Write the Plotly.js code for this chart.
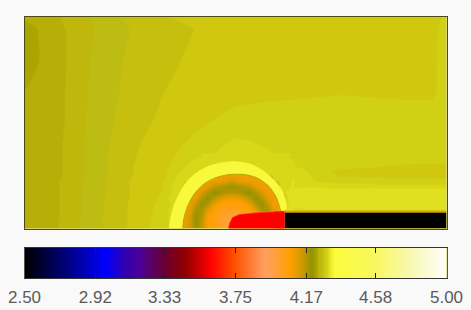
<!DOCTYPE html>
<html><head><meta charset="utf-8">
<script src="https://cdn.plot.ly/plotly-3.0.1.min.js"></script>
<style>html,body{margin:0;padding:0;background:#f9f9f9}#c{width:471px;height:310px}</style>
</head><body><div id="c"></div>
<script>
// Colour map: [value, colour]; repeated values are band edges.
const colourStops = [
 [2.5,'#000000'],[2.71,'#00006a'],[2.98,'#0000ff'],[3.09,'#3000b0'],[3.18,'#4c0098'],[3.33,'#6a0030'],
 [3.45,'#900000'],[3.6,'#ff0000'],[3.74,'#ff5000'],[3.92,'#ffa060'],[3.98,'#ffa040'],[4.07,'#ffa000'],
 [4.13,'#d89a00'],[4.2,'#939300'],[4.23,'#aea500'],[4.23,'#b7ae08'],[4.24,'#b7ae08'],[4.24,'#bfb70b'],
 [4.25,'#bfb70b'],[4.25,'#bcbc12'],[4.26,'#bcbc12'],[4.26,'#c6bf0e'],[4.27,'#c6bf0e'],[4.27,'#cfc80e'],
 [4.28,'#cfc80e'],[4.28,'#d0d014'],[4.29,'#d0d014'],[4.29,'#d8d818'],[4.30,'#d8d818'],[4.30,'#e0e020'],
 [4.31,'#e0e020'],[4.31,'#f0f030'],[4.33,'#f0f030'],[4.33,'#fbfb3c'],[4.58,'#f8f860'],[4.78,'#f8f8b0'],[5,'#ffffff']
];
const tickValues = [2.5,2.92,3.33,3.75,4.17,4.58,5.0];
const tickLabels = ['2.50','2.92','3.33','3.75','4.17','4.58','5.00'];

// Wide field, sampled coarsely
const wideX = [0,35,70,105,140,175,210,245,280,315,360,407,422];
const wideY = [211,198,168,138,108,78,63,56,48,38,23,17,0];
const wideZ = [
 [4.232,4.24,4.2525,4.263,4.27,4.273,4.275,4.276,4.276,4.276,4.276,4.276,4.282],
 [4.225,4.238,4.25,4.26,4.265,4.271,4.275,4.276,4.276,4.276,4.276,4.2765,4.285],
 [4.225,4.237,4.252,4.262,4.2675,4.273,4.275,4.276,4.276,4.276,4.276,4.2775,4.285],
 [4.23,4.238,4.253,4.263,4.27,4.2745,4.276,4.277,4.278,4.279,4.278,4.2775,4.285],
 [4.231,4.238,4.254,4.265,4.2725,4.278,4.283,4.285,4.285,4.285,4.285,4.285,4.285],
 [4.23,4.239,4.255,4.268,4.277,4.285,4.295,4.29,4.285,4.285,4.285,4.285,4.285],
 [4.231,4.239,4.255,4.269,4.278,4.288,4.295,4.295,4.288,4.284,4.28,4.279,4.279],
 [4.231,4.239,4.255,4.269,4.279,4.29,4.295,4.295,4.292,4.276,4.275,4.275,4.276],
 [4.232,4.24,4.2555,4.27,4.28,4.295,4.295,4.295,4.292,4.285,4.283,4.282,4.282],
 [4.232,4.24,4.256,4.27,4.281,4.295,4.295,4.295,4.305,4.305,4.305,4.305,4.305],
 [4.232,4.24,4.2565,4.271,4.284,4.295,4.295,4.295,4.305,4.305,4.305,4.305,4.305],
 [4.232,4.24,4.2565,4.271,4.285,4.295,4.295,4.295,4.295,4.295,4.295,4.295,4.295],
 [4.232,4.2405,4.257,4.2713,4.2875,4.295,4.295,4.295,4.295,4.295,4.295,4.295,4.295]
];

// Inside of the half disc, sampled finely
const ringX = [141,147,153,159,165,171,177,183,189,195,201,207,213,219,225,231,237,243,249,255,261,267];
const ringY = [72,66,60,54,48,42,36,30,24,18,12,6,0];
const ringZ = [
 [4.278,4.279,4.281,4.283,4.285,4.288,4.29,4.295,4.295,4.295,4.295,4.295,4.295,4.295,4.295,4.295,4.295,4.295,4.295,4.295,4.295,4.285],
 [4.278,4.28,4.283,4.285,4.29,4.295,4.295,4.295,4.295,4.295,4.295,4.295,4.295,4.295,4.295,4.295,4.295,4.295,4.295,4.295,4.295,4.295],
 [4.279,4.282,4.285,4.29,4.295,4.295,4.295,4.295,4.295,4.09,4.09,4.09,4.09,4.09,4.295,4.295,4.295,4.295,4.295,4.295,4.295,4.295],
 [4.279,4.283,4.29,4.295,4.295,4.295,4.295,4.09,4.09,4.09,4.09,4.09,4.09,4.09,4.09,4.09,4.295,4.295,4.295,4.295,4.295,4.295],
 [4.28,4.285,4.295,4.295,4.295,4.09,4.09,4.09,4.09,4.09,4.11,4.13,4.11,4.09,4.09,4.09,4.09,4.09,4.295,4.295,4.295,4.30],
 [4.281,4.29,4.295,4.295,4.09,4.09,4.09,4.11,4.15,4.17,4.18,4.19,4.18,4.17,4.15,4.11,4.09,4.09,4.09,4.295,4.295,4.30],
 [4.283,4.29,4.295,4.295,4.09,4.09,4.13,4.17,4.2,4.19,4.17,4.165,4.17,4.19,4.2,4.17,4.13,4.09,4.09,4.295,4.30,4.305],
 [4.285,4.295,4.295,4.09,4.10,4.11,4.17,4.2,4.165,4.12,4.095,4.09,4.095,4.12,4.165,4.2,4.17,4.11,4.09,4.09,4.295,4.305],
 [4.285,4.29,4.295,4.09,4.09,4.15,4.2,4.165,4.10,4.07,4.05,4.05,4.05,4.07,4.10,4.165,4.2,4.15,4.09,4.09,4.295,4.305],
 [4.286,4.295,4.295,4.09,4.11,4.18,4.18,4.11,4.07,4.04,4.03,4.03,4.03,4.04,4.07,4.11,4.18,4.18,4.11,4.09,4.30,4.305],
 [4.287,4.295,4.295,4.09,4.13,4.195,4.165,4.08,4.05,4.02,4.0,3.99,3.99,3.99,3.99,3.99,3.99,3.99,3.99,3.99,4.30,4.30],
 [4.287,4.295,4.295,4.09,4.13,4.2,4.15,4.07,4.05,4.02,3.99,3.99,3.99,3.99,3.99,3.99,3.99,3.99,3.99,3.99,4.30,4.30],
 [4.287,4.295,4.295,4.09,4.13,4.195,4.155,4.075,4.05,4.02,3.99,3.99,3.99,3.99,3.99,3.99,3.99,3.99,3.99,3.99,4.30,4.30]
];

// Bright half ring, outer and inner edges
const ringOuterX = [144.5,145.7,150,158.3,168.3,181.7,196.7,210,225,238.3,250,257.7,261.7,262.3,258.3];
const ringOuterY = [0,9.7,24.7,41.3,53,61.3,65.7,67,64.7,58,48,38,26.3,19.7,17.3];
const ringInnerX = [255.7,251.7,243.3,231.7,220,205,191.7,180,170,163.3,159.3,158.3];
const ringInnerY = [19.7,31.3,43,50.7,53.7,53.7,50.7,44.7,34.7,22.7,9.7,0];

// Solid wall (black bar) as one cell with edges
const wallX = [260,422];
const wallY = [0,16];
const wallZ = [[2.5]];
// Thin warm layer on top of the wall
const layerX = [260,422];
const layerY = [16.8,16.8];
// Red core outline and its darker right end
const coreX = [204,205,208,215,235,257,260,260,204];
const coreY = [0,5,11,14,16,17.2,17,0,0];
const coreEndX = [250,253,255,257,259,260];
const coreEndY = [0,17];
const coreEndZ = [[3.58,3.55,3.5,3.46,3.42]];

// Legend bar
const barValues = [2.5,2.92,3.33,3.75,4.17,4.58,5.0];

const scale = colourStops.map(s => [(s[0]-2.5)/2.5, s[1]]);
const base = {type:'heatmap', colorscale:scale, zmin:2.5, zmax:5, showscale:false, hoverinfo:'skip'};

const traces = [
 Object.assign({}, base, {x:wideX, y:wideY, z:wideZ, zsmooth:'best'}),
 Object.assign({}, base, {x:ringX, y:ringY, z:ringZ, zsmooth:'best'}),
 {type:'scatter', mode:'lines', x:ringOuterX.concat(ringInnerX), y:ringOuterY.concat(ringInnerY), fill:'toself',
  fillcolor:'#f8f83c', line:{color:'#f8f83c', width:0, shape:'spline', smoothing:0.8}, hoverinfo:'skip', showlegend:false},
 {type:'scatter', mode:'lines', x:ringInnerX, y:ringInnerY, line:{color:'#b8a808', width:1, shape:'spline', smoothing:0.8}, hoverinfo:'skip', showlegend:false},
 {type:'scatter', mode:'lines', x:coreX, y:coreY, fill:'toself', fillcolor:'#ff0000',
  line:{color:'#ff3a20', width:0.6}, hoverinfo:'skip', showlegend:false},
 Object.assign({}, base, {x:coreEndX, y:coreEndY, z:coreEndZ, zsmooth:false}),
 Object.assign({}, base, {x:wallX, y:wallY, z:wallZ, zsmooth:false}),
 {type:'scatter', mode:'lines', x:layerX, y:layerY, line:{color:'#e4980c', width:1.6}, hoverinfo:'skip', showlegend:false},
 Object.assign({}, base, {x:barValues, y:[0,1], z:[barValues,barValues], zsmooth:'best', xaxis:'x2', yaxis:'y2'})
];

const H=310, W=471;
const layout = {
 width:W, height:H, margin:{l:0,r:0,t:0,b:0}, paper_bgcolor:'#f9f9f9', plot_bgcolor:'#cfc80e', showlegend:false,
 xaxis:{domain:[24.5/W,446.5/W], range:[0,422], showticklabels:false, ticks:'', showgrid:false, zeroline:false,
        showline:true, mirror:true, linecolor:'#4a4a18', linewidth:1},
 yaxis:{domain:[1-228.5/H,1-16.5/H], range:[0,211], showticklabels:false, ticks:'', showgrid:false, zeroline:false,
        showline:true, mirror:true, linecolor:'#4a4a18', linewidth:1},
 xaxis2:{anchor:'y2', domain:[24.5/W,446.5/W], range:[2.5,5], tickmode:'array', tickvals:tickValues, ticktext:tickLabels,
        ticks:'inside', ticklen:5, tickcolor:'#222', tickwidth:1, showgrid:false, zeroline:false, showline:true, mirror:'ticks',
        linecolor:'#333', linewidth:1, ticklabelstandoff:4,
        tickfont:{family:'"Liberation Sans",Arial,sans-serif', size:17, color:'#5a5a5a'}},
 yaxis2:{anchor:'x2', domain:[1-278/H,1-247.5/H], range:[0,1], showticklabels:false, ticks:'', showgrid:false, zeroline:false,
        showline:true, mirror:true, linecolor:'#555', linewidth:1}
};
Plotly.newPlot('c', traces, layout, {displayModeBar:false, staticPlot:true});
</script></body></html>
